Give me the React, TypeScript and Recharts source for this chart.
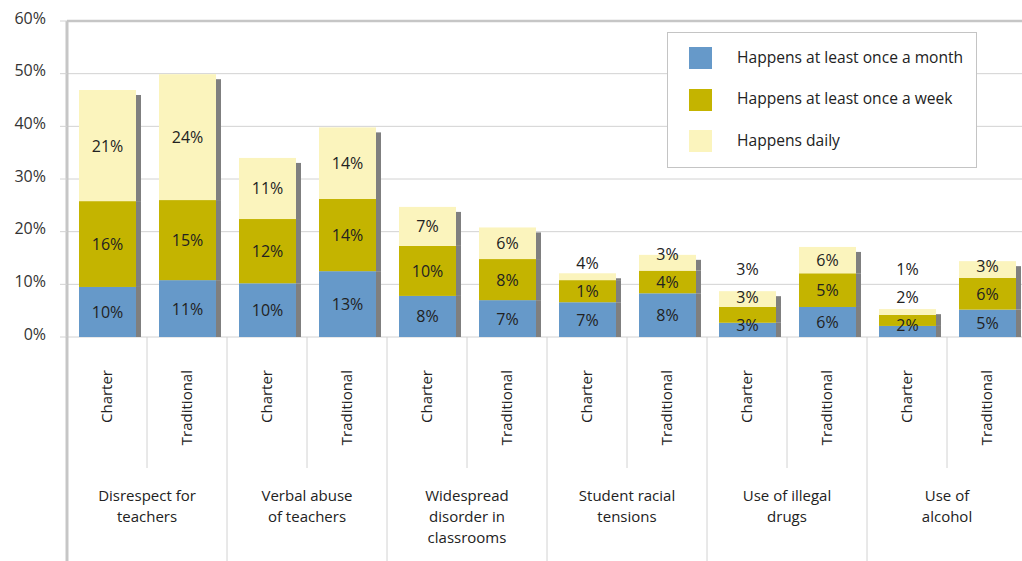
import { BarChart, Bar, XAxis, YAxis, CartesianGrid, Legend, LabelList, ReferenceLine } from 'recharts';

const FONT = "'Open Sans', sans-serif";

const GROUPS = [
  ['Disrespect for', 'teachers'],
  ['Verbal abuse', 'of teachers'],
  ['Widespread', 'disorder in', 'classrooms'],
  ['Student racial', 'tensions'],
  ['Use of illegal', 'drugs'],
  ['Use of', 'alcohol'],
];
const TYPES = ['Charter', 'Traditional'];

// bar segment heights (%)
const MONTHLY = [9.5, 10.8, 10.2, 12.5, 7.8, 7.0, 6.6, 8.3, 2.7, 5.7, 2.1, 5.2];
const WEEKLY = [16.3, 15.2, 12.2, 13.7, 9.5, 7.8, 4.2, 4.3, 3.0, 6.4, 2.1, 6.0];
const DAILY = [21.1, 23.9, 11.6, 13.6, 7.4, 6.0, 1.3, 3.0, 3.0, 5.0, 1.1, 3.2];

// printed labels
const MONTHLY_LBL = ['10%', '11%', '10%', '13%', '8%', '7%', '7%', '8%', '3%', '6%', '2%', '5%'];
const WEEKLY_LBL = ['16%', '15%', '12%', '14%', '10%', '8%', '1%', '4%', '3%', '5%', '2%', '6%'];
const DAILY_LBL = ['21%', '24%', '11%', '14%', '7%', '6%', '4%', '3%', '3%', '6%', '1%', '3%'];

const Y_TICKS = [0, 10, 20, 30, 40, 50, 60];

const SERIES = [
  { key: 'monthly', name: 'Happens at least once a month', color: '#6699c9' },
  { key: 'weekly', name: 'Happens at least once a week', color: '#c4b400' },
  { key: 'daily', name: 'Happens daily', color: '#fbf4bd' },
];

const data = GROUPS.flatMap((_, gi) =>
  TYPES.map((t, ti) => {
    const i = gi * 2 + ti;
    return { type: t, monthly: MONTHLY[i], weekly: WEEKLY[i], daily: DAILY[i] };
  })
);

const W = 1030;
const H = 561;
const M = { top: 21, right: 3, left: 0, bottom: 0 };
const Y_W = 67;
const X_H = 224;
const BASE_Y = H - X_H; // zero line
const BAND = (W - Y_W - M.right) / data.length;
const GRID = '#d2d2d2';
const AXIS = '#c6c6c6';
const SHADOW = '#7f7f7f';

const segShape = (fill: string, top: boolean) => (p: any) => {
  const { x, y, width, height } = p;
  if (!height) return <g />;
  return (
    <g>
      <rect x={x} y={y} width={width} height={height} fill={fill} />
      <rect x={x + width} y={top ? y + 5 : y} width={5} height={top ? Math.max(0, height - 5) : height} fill={SHADOW} />
    </g>
  );
};

const ValueLabels = (p: any) => {
  const vb = p.viewBox ?? p;
  const i = p.index;
  const cx = vb.x + vb.width / 2;
  const top = vb.y;
  const k = (BASE_Y - top) / (MONTHLY[i] + WEEKLY[i] + DAILY[i]);
  const c1 = BASE_Y - (MONTHLY[i] * k) / 2;
  const c2 = BASE_Y - (MONTHLY[i] + WEEKLY[i] / 2) * k;
  const c3 = top + (DAILY[i] * k) / 2;
  // push crowded labels upward
  const y1 = Math.min(c1, BASE_Y - 12);
  const y2 = Math.min(c2, y1 - 28);
  const y3 = Math.min(c3, y2 - 28);
  const t = { x: cx, textAnchor: 'middle' as const, dominantBaseline: 'central' as const, fontFamily: FONT, fontSize: 16, fill: '#222' };
  return (
    <g>
      <text {...t} y={y1}>{MONTHLY_LBL[i]}</text>
      <text {...t} y={y2}>{WEEKLY_LBL[i]}</text>
      <text {...t} y={y3}>{DAILY_LBL[i]}</text>
    </g>
  );
};

const XTick = (p: any) => {
  const { x, payload } = p;
  const i = payload.index;
  const left = x - BAND / 2;
  const right = x + BAND / 2;
  const grp = GROUPS[Math.floor(i / 2)];
  const endOfGroup = i % 2 === 1;
  return (
    <g>
      {i === 0 && <line x1={left} x2={left} y1={BASE_Y} y2={H} stroke={AXIS} strokeWidth={3} />}
      <line x1={right} x2={right} y1={BASE_Y} y2={endOfGroup ? H : 468} stroke={GRID} strokeWidth={1} />
      <text x={x - 1} y={370} transform={`rotate(-90 ${x - 1} 370)`} textAnchor="end" dominantBaseline="central"
        fontFamily={FONT} fontSize={15} fill="#222">{payload.value}</text>
      {!endOfGroup && grp.map((line, li) => (
        <text key={li} x={right} y={501 + li * 21} textAnchor="middle" fontFamily={FONT} fontSize={15} fill="#222">{line}</text>
      ))}
    </g>
  );
};

const LegendBox = () => (
  <div style={{ position: 'relative', width: 310, height: 136, border: '1.5px solid #c4c4c4', background: '#fff', boxSizing: 'border-box', fontFamily: FONT, fontSize: 15.6, color: '#222' }}>
    {SERIES.map((s, i) => (
      <div key={s.key} style={{ position: 'absolute', left: 21, top: 14 + i * 41.5, height: 22, display: 'flex', alignItems: 'center', whiteSpace: 'nowrap' }}>
        <span style={{ width: 23, height: 22, background: s.color, display: 'inline-block' }} />
        <span style={{ marginLeft: 25, marginTop: -3 }}>{s.name}</span>
      </div>
    ))}
  </div>
);

export default function App() {
  return (
    <div style={{ position: 'absolute', left: 0, top: 0, width: 1022, height: H, overflow: 'hidden', background: '#fff' }}>
      <BarChart width={W} height={H} data={data} margin={M} barSize={57}>
        <CartesianGrid vertical={false} stroke={GRID} />
        <YAxis width={Y_W} domain={[0, 60]} ticks={Y_TICKS} interval={0} tickFormatter={(v) => `${v}%`}
          tickSize={7} tickMargin={14} tickLine={{ stroke: GRID }} axisLine={{ stroke: AXIS, strokeWidth: 3 }}
          tick={{ fontFamily: FONT, fontSize: 16, fill: '#333', dy: -3 }} />
        <XAxis dataKey="type" height={X_H} interval={0} axisLine={false} tickLine={false} tick={<XTick />} />
        <ReferenceLine y={60} stroke={AXIS} strokeWidth={2.5} />
        <Legend layout="vertical" align="center" verticalAlign="middle" content={<LegendBox />}
          wrapperStyle={{ left: 667, top: 32, width: 310, height: 136 }} />
        {SERIES.map((s, si) => (
          <Bar key={s.key} dataKey={s.key} name={s.name} stackId="a" fill={s.color} isAnimationActive={false}
            shape={segShape(s.color, si === SERIES.length - 1)}>
            {si === SERIES.length - 1 && <LabelList dataKey={s.key} content={<ValueLabels />} />}
          </Bar>
        ))}
      </BarChart>
    </div>
  );
}
